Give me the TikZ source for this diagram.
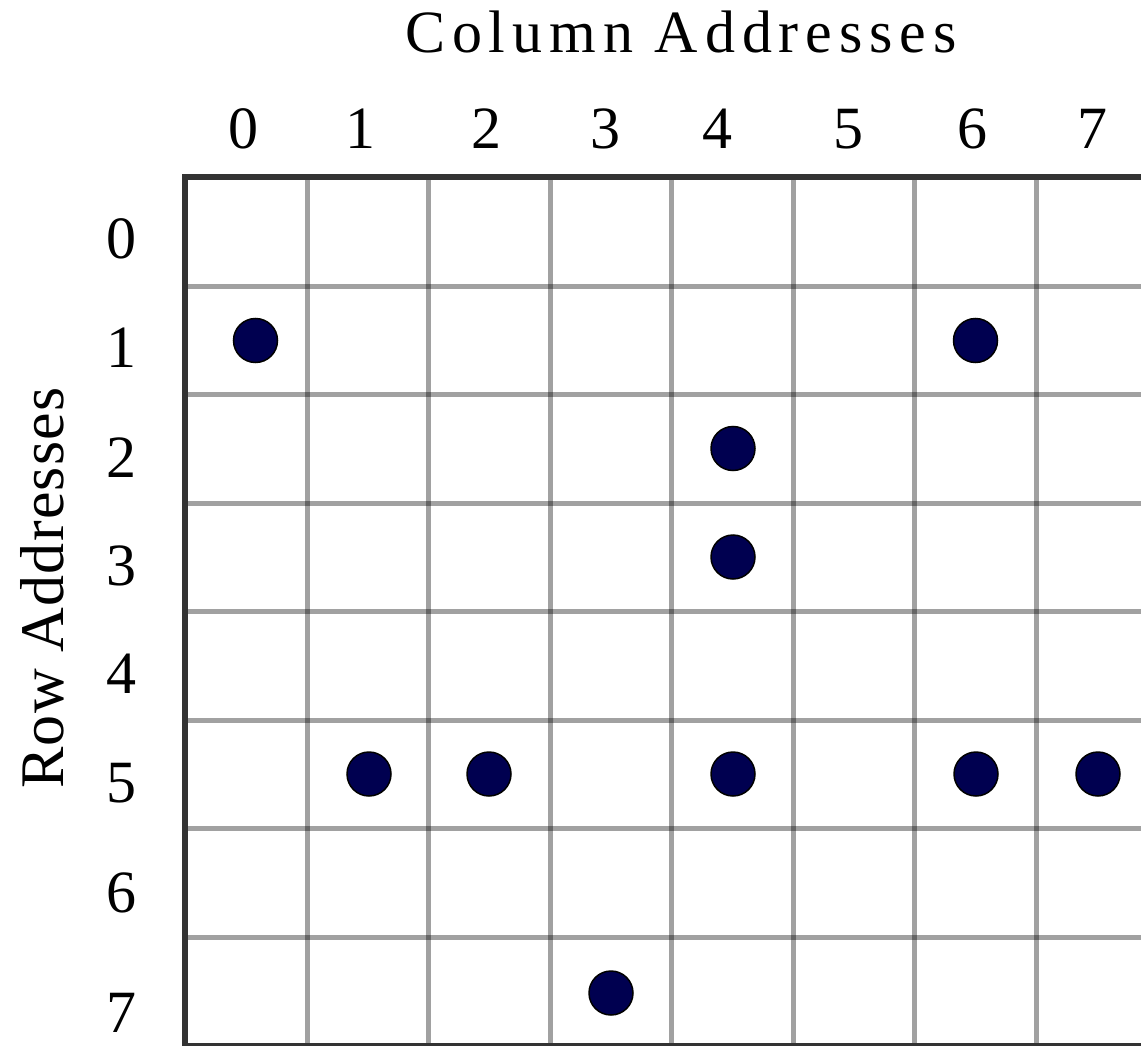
\documentclass[tikz,border=0pt]{standalone}
\usepackage{fontspec}
\setmainfont{Liberation Serif}
\newfontfamily\spacedfont[LetterSpace=11.5]{Liberation Serif}
\newfontfamily\rowfont[LetterSpace=2]{Liberation Serif}
\definecolor{dotnavy}{RGB}{0,0,80}
\definecolor{borderdark}{RGB}{51,51,51}
\begin{document}
\begin{tikzpicture}[x=1pt,y=-1pt,
  gridline/.style={line width=5pt,black,opacity=0.37},
  borderline/.style={line width=6pt,borderdark},
  digit/.style={inner sep=0pt,anchor=base,font=\fontsize{60}{72}\selectfont},
  dot/.style={circle,fill=dotnavy,draw=black,line width=1.5pt,minimum size=44pt,inner sep=0pt}]
\useasboundingbox[fill=white] (0,0) rectangle (1141,1046);
% grid lines
\foreach \x in {307,428.5,550,671.5,793,914.5,1036}
  \draw[gridline] (\x,180) -- (\x,1046);
\foreach \y in {286,394.5,503,611.5,720,828.5,937}
  \draw[gridline] (188,\y) -- (1141,\y);
% border
\draw[borderline] (185,1046) -- (185,177.5) -- (1141,177.5);
\draw[borderline] (185,1046) -- (1141,1046);
% titles
\node[inner sep=0pt,anchor=base,font=\spacedfont\fontsize{60}{72}\selectfont] (coltitle) at (681,53) {Column Addresses};
\node[inner sep=0pt,anchor=base,rotate=90,font=\rowfont\fontsize{62}{72}\selectfont] (rowtitle) at (63,588) {Row Addresses};
% column digits
\foreach \d/\x in {0/243.5,1/360,2/486,3/605,4/717,5/848,6/972,7/1092}
  \node[digit] (c\d) at (\x,149) {\d};
% row digits
\foreach \d/\y in {0/258.5,1/367,2/477,3/585,4/693,5/802,6/912,7/1032}
  \node[digit] (r\d) at (121,\y) {\d};
% dots
\node[dot] (d10) at (255.5,340.5) {};
\node[dot] (d16) at (975.5,340.5) {};
\node[dot] (d24) at (733,448.5) {};
\node[dot] (d34) at (733,557) {};
\node[dot] (d51) at (369,774) {};
\node[dot] (d52) at (489,774) {};
\node[dot] (d54) at (733,774) {};
\node[dot] (d56) at (976,774) {};
\node[dot] (d57) at (1098,774) {};
\node[dot] (d73) at (611,993) {};
\end{tikzpicture}
\end{document}
